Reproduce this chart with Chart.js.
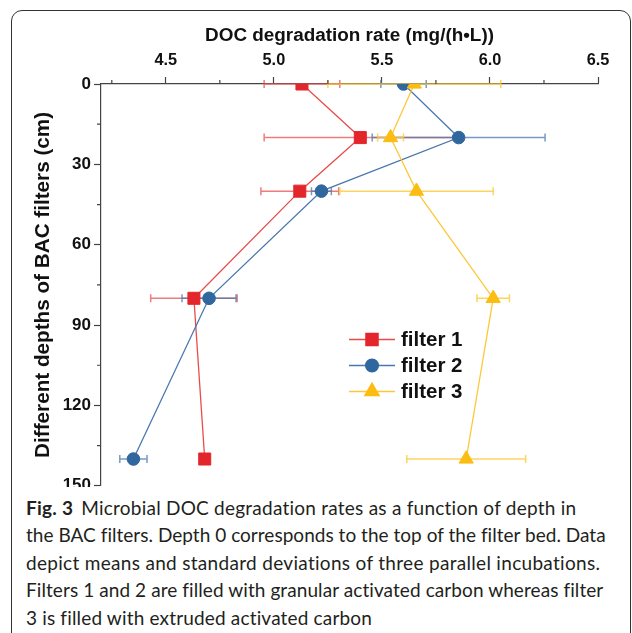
<!DOCTYPE html>
<html>
<head>
<meta charset="utf-8">
<script src="https://cdn.jsdelivr.net/npm/chart.js@4.4.0/dist/chart.umd.min.js"></script>
<style>
  html, body { margin: 0; padding: 0; background: #fff; }
  body { width: 632px; height: 633px; position: relative; overflow: hidden; }
  #frame {
    position: absolute; left: 11px; top: 10px; width: 620px; height: 700px;
    box-sizing: border-box; border: 1.5px solid #333; border-radius: 11px;
  }
  #wrap { position: absolute; left: 0; top: 0; width: 632px; height: 499px; }
  #caption {
    position: absolute; left: 26px; top: 487px; padding-top: 7px; width: 600px;
    background: #fff;
    font-family: Lato, "Open Sans", sans-serif; font-size: 19px;
    line-height: 27.4px; color: #231f20; white-space: nowrap;
  }
  #caption span { display: inline-block; }
  #caption b { font-weight: 700; margin-right: 8px; }
</style>
</head>
<body>
<div id="frame"></div>
<div id="wrap"><canvas id="chart"></canvas></div>
<div id="caption">
  <span><b>Fig. 3</b>Microbial DOC degradation rates as a function of depth in</span><br>
  <span>the BAC filters. Depth 0 corresponds to the top of the filter bed. Data</span><br>
  <span>depict means and standard deviations of three parallel incubations.</span><br>
  <span>Filters 1 and 2 are filled with granular activated carbon whereas filter</span><br>
  <span>3 is filled with extruded activated carbon</span>
</div>
<script>
// ---- data ----
const depths = [0, 20, 40, 80, 140];
const seriesNames = ['filter 1', 'filter 2', 'filter 3'];

const filter1 = [5.13, 5.40, 5.12, 4.63, 4.68];
const filter1Sd = [0.175, 0.445, 0.18, 0.20, 0.01];
const filter2 = [5.60, 5.855, 5.22, 4.70, 4.35];
const filter2Sd = [0.105, 0.40, 0.046, 0.125, 0.063];
const filter3 = [5.65, 5.54, 5.66, 6.015, 5.89];
const filter3Sd = [0.40, 0.06, 0.355, 0.075, 0.275];

const xMajorTicks = [4.5, 5.0, 5.5, 6.0, 6.5];
const yMajorTicks = [0, 30, 60, 90, 120, 150];

// ---- styles ----
const markerColors = ['#e3262b', '#31679f', '#fbbd12'];
const lineColors = ['#ea4b4a', '#4a78ad', '#fcc83a'];
const errColors = ['rgba(234,80,80,0.75)', 'rgba(74,120,173,0.75)', 'rgba(252,200,58,0.8)'];
const pointStyles = ['rect', 'circle', 'triangle'];
const pointRadii = [8.5, 6.3, 8.2];

const allValues = [filter1, filter2, filter3];
const allSd = [filter1Sd, filter2Sd, filter3Sd];

const isMajor = (v, list) => list.some(m => Math.abs(m - v) < 1e-6);

// caption lines stretched to the widths of the printed figure
const captionRight = [577, 605, 601, 603, 372];
document.querySelectorAll('#caption span').forEach((el, i) => {
  const target = captionRight[i] - 26;
  const w = el.getBoundingClientRect().width;
  const n = el.textContent.length;
  el.style.letterSpacing = ((target - w) / n).toFixed(3) + 'px';
});

// horizontal error bars, drawn under the lines
const errorBars = {
  id: 'errorBars',
  beforeDatasetsDraw(chart) {
    const ctx = chart.ctx, xs = chart.scales.x, ys = chart.scales.y;
    ctx.save();
    ctx.lineWidth = 1.5;
    allValues.forEach((vals, i) => {
      ctx.strokeStyle = errColors[i];
      vals.forEach((v, j) => {
        const sd = allSd[i][j];
        const y = ys.getPixelForValue(depths[j]);
        const x1 = xs.getPixelForValue(v - sd);
        const x2 = xs.getPixelForValue(v + sd);
        ctx.beginPath();
        ctx.moveTo(x1, y); ctx.lineTo(x2, y);
        ctx.moveTo(x1, y - 4); ctx.lineTo(x1, y + 4);
        ctx.moveTo(x2, y - 4); ctx.lineTo(x2, y + 4);
        ctx.stroke();
      });
    });
    ctx.restore();
  }
};

// short minor ticks (Chart.js has one tick length per axis)
const minorTicks = {
  id: 'minorTicks',
  afterDraw(chart) {
    const ctx = chart.ctx, xs = chart.scales.x, ys = chart.scales.y;
    ctx.save();
    ctx.strokeStyle = '#444';
    ctx.lineWidth = 1.2;
    ctx.beginPath();
    xs.ticks.forEach(t => {
      if (isMajor(t.value, xMajorTicks)) return;
      const px = xs.getPixelForValue(t.value);
      ctx.moveTo(px, xs.bottom); ctx.lineTo(px, xs.bottom - 4);
    });
    ys.ticks.forEach(t => {
      if (isMajor(t.value, yMajorTicks)) return;
      const py = ys.getPixelForValue(t.value);
      ctx.moveTo(ys.right, py); ctx.lineTo(ys.right - 4, py);
    });
    ctx.stroke();
    ctx.restore();
  }
};

// legend sits inside the plot
const innerLegend = {
  id: 'innerLegend',
  afterDraw(chart) {
    const ctx = chart.ctx;
    const x0 = 349, x1 = 395, tx = 401, rows = [339.5, 365.5, 391.5];
    ctx.save();
    chart.data.datasets.forEach((ds, i) => {
      const y = rows[i];
      ctx.strokeStyle = lineColors[i];
      ctx.lineWidth = 1.5;
      ctx.beginPath(); ctx.moveTo(x0, y); ctx.lineTo(x1, y); ctx.stroke();
      ctx.fillStyle = markerColors[i];
      ctx.strokeStyle = markerColors[i];
      Chart.helpers.drawPoint(ctx, { pointStyle: pointStyles[i], radius: pointRadii[i], borderWidth: 1 }, (x0 + x1) / 2, y);
      ctx.fillStyle = '#111';
      ctx.font = 'bold 20.5px "Liberation Sans", Arial, sans-serif';
      ctx.textAlign = 'left';
      ctx.textBaseline = 'middle';
      ctx.fillText(ds.label, tx, y + 1);
    });
    ctx.restore();
  }
};

const datasets = allValues.map((vals, i) => ({
  label: seriesNames[i],
  data: vals.map((v, j) => ({ x: v, y: depths[j] })),
  showLine: true,
  borderColor: lineColors[i],
  borderWidth: 1.3,
  backgroundColor: markerColors[i],
  pointBackgroundColor: markerColors[i],
  pointBorderColor: markerColors[i],
  pointBorderWidth: 1,
  pointStyle: pointStyles[i],
  pointRadius: pointRadii[i],
  order: 2 - i
}));

const fam = '"Liberation Sans", Arial, sans-serif';

new Chart(document.getElementById('chart'), {
  type: 'scatter',
  data: { datasets },
  options: {
    responsive: true,
    maintainAspectRatio: false,
    animation: false,
    layout: { padding: { left: 0, top: 0, right: 34, bottom: 6 } },
    plugins: { legend: { display: false }, tooltip: { enabled: false } },
    scales: {
      x: {
        type: 'linear',
        position: 'top',
        min: 4.2,
        max: 6.5,
        afterFit: s => { s.height = 84; },
        ticks: {
          stepSize: 0.25,
          includeBounds: false,
          maxRotation: 0,
          autoSkip: false,
          padding: 7,
          color: '#111',
          font: { family: fam, size: 16.3, weight: 'bold' },
          callback: v => isMajor(v, xMajorTicks) ? v.toFixed(1) : ''
        },
        grid: {
          drawOnChartArea: false,
          tickLength: 7,
          tickWidth: 1.2,
          tickColor: c => isMajor(c.tick.value, xMajorTicks) ? '#444' : 'rgba(0,0,0,0)'
        },
        border: { display: true, color: '#444', width: 1.2 },
        title: {
          display: true,
          text: 'DOC degradation rate (mg/(h\u2022L))',
          color: '#111',
          font: { family: fam, size: 18.9, weight: 'bold' },
          padding: { top: 24.7, bottom: 0 }
        }
      },
      y: {
        type: 'linear',
        reverse: true,
        min: 0,
        max: 150,
        afterFit: s => { s.width = 101; },
        ticks: {
          stepSize: 15,
          autoSkip: false,
          padding: 3,
          color: '#111',
          font: { family: fam, size: 17, weight: 'bold' },
          callback: v => isMajor(v, yMajorTicks) ? String(v) : ''
        },
        grid: {
          drawOnChartArea: false,
          tickLength: 7,
          tickWidth: 1.2,
          tickColor: c => isMajor(c.tick.value, yMajorTicks) ? '#444' : 'rgba(0,0,0,0)'
        },
        border: { display: true, color: '#444', width: 1.2 },
        title: {
          display: true,
          text: 'Different depths of BAC filters (cm)',
          color: '#111',
          font: { family: fam, size: 20.7, weight: 'bold' },
          padding: { top: 30.6, bottom: 0 }
        }
      }
    }
  },
  plugins: [errorBars, minorTicks, innerLegend]
});
</script>
</body>
</html>
